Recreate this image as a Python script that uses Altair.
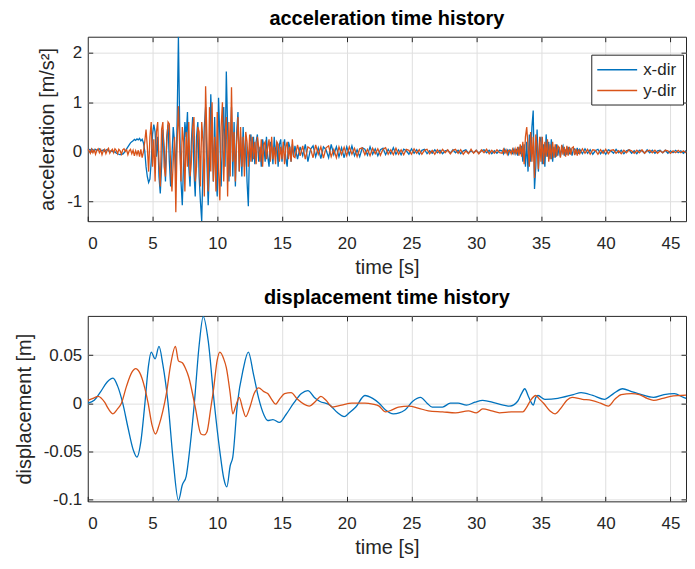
import altair as alt
import pandas as pd

# ---------------- data ----------------
SERIES = ["x-dir", "y-dir"]
COLORS = ["#0072BD", "#D95319"]
XTICKS = [0, 5, 10, 15, 20, 25, 30, 35, 40, 45]
ACC_TICKS = [-1, 0, 1, 2]
DISP_TICKS = [-0.1, -0.05, 0, 0.05]

# acceleration sampling segments: (start time, step)
ACC_SEGMENTS = [(0.0, 0.1), (16.0, 0.2), (32.0, 0.1), (38.0, 0.2)]

acc_x_1 = [
    0.02, 0.05, 0.03, 0.06, 0.04, 0.02, 0.05, 0.03, 0.04, 0.06,
    0.03, 0.02, 0.04, 0.01, 0.03, 0.05, 0.02, 0.00, 0.02, 0.01,
    -0.01, 0.00, -0.03, -0.04, -0.05, -0.06, -0.04, -0.05, -0.02, 0.02,
    0.06, 0.10, 0.14, 0.18, 0.20, 0.22, 0.25, 0.23, 0.26, 0.24,
    0.27, 0.22, 0.25, 0.18, 0.02, -0.30, -0.50, -0.62, -0.55, -0.20,
    0.35, 0.55, 0.40, -0.10, 0.30, -0.50, -0.84, -0.30, 0.45, 0.10,
    -0.60, 0.30, 0.55, -0.20, -0.70, -0.10, 0.50, 0.20, -0.50, 0.60,
    2.32, 0.50, -0.60, -1.08, -0.20, 0.60, 0.30, 0.80, -0.30, -0.70,
    0.20, 0.70, -0.40, -0.90, 0.30, 0.60, -0.50, -1.00, -1.40, -0.30,
    0.50, 0.90, -0.20, -1.08, -0.30, 1.16, 0.40, -0.60, 0.70, -0.50,
    -0.90, 1.09, 0.30, -0.70, 0.20, 0.90, -0.30, 1.62, 0.50, -0.60,
    0.20, 0.90, -0.50, 0.60, -0.70, 0.40, 0.80, -0.40, 0.30, -0.50,
    0.50, -0.30, 0.30, -0.60, -1.10, 0.20, 0.35, -0.20, 0.30, -0.25,
    0.20, 0.35, -0.20, 0.10, -0.30, 0.25, 0.10, -0.20, 0.30, -0.10,
    -0.30, 0.20, 0.10, -0.25, 0.30, -0.10, 0.20, -0.30, 0.15, 0.25,
    -0.20, 0.10, 0.25, -0.15, -0.30, 0.20, 0.10, -0.20, 0.15, -0.10,
]
acc_x_2 = [
    0.12, -0.15, 0.10, -0.08, 0.15, -0.20, 0.05, 0.12, -0.10, 0.08,
    -0.14, 0.10, 0.04, -0.12, 0.15, -0.06, 0.10, -0.10, 0.08, -0.12,
    0.10, -0.06, 0.12, -0.08, 0.04, -0.10, 0.08, 0.05, -0.07, 0.10,
    -0.05, 0.06, -0.08, 0.04, 0.07, -0.06, 0.05, -0.04, 0.08, -0.05,
    0.04, -0.06, 0.05, 0.02, -0.05, 0.06, -0.03, 0.04, -0.05, 0.03,
    0.05, -0.04, 0.02, -0.03, 0.04, -0.02, 0.03, -0.04, 0.02, 0.03,
    -0.03, 0.04, -0.02, 0.03, -0.04, 0.02, 0.04, -0.03, 0.02, -0.02,
    0.03, -0.03, 0.02, 0.04, -0.02, 0.03, -0.04, 0.02, -0.03, 0.03,
]
acc_x_3 = [
    0.02, -0.04, 0.05, -0.02, 0.03, -0.05, 0.04, 0.02, -0.03, 0.05,
    -0.04, 0.06, -0.08, 0.10, -0.05, 0.12, -0.20, 0.15, -0.30, 0.20,
    -0.40, 0.35, -0.20, 0.50, 0.83, -0.75, -0.30, 0.45, -0.40, 0.20,
    0.30, -0.25, 0.15, -0.30, 0.35, -0.10, 0.20, -0.15, 0.25, -0.20,
    0.10, -0.12, 0.15, -0.08, 0.10, -0.10, 0.06, 0.12, -0.08, 0.05,
    -0.06, 0.10, -0.05, 0.07, -0.08, 0.04, 0.06, -0.05, 0.08, -0.04,
]
acc_x_4 = [
    0.05, -0.04, 0.06, -0.03, 0.04, -0.05, 0.02, 0.05, -0.04, 0.03,
    -0.05, 0.04, 0.02, -0.03, 0.05, -0.02, 0.03, -0.04, 0.02, 0.04,
    -0.03, 0.02, -0.04, 0.03, 0.02, -0.03, 0.04, -0.02, 0.03, -0.03,
    0.02, 0.03, -0.02, 0.03, -0.03, 0.02, -0.02, 0.03, -0.02, 0.02,
    -0.03, 0.02, 0.01, -0.02, 0.02,
]

acc_y_1 = [
    0.06, 0.02, -0.03, 0.05, -0.02, 0.04, -0.05, 0.03, 0.06, -0.02,
    0.04, -0.06, 0.02, 0.05, -0.04, 0.03, 0.07, -0.03, 0.02, 0.05,
    -0.02, 0.06, 0.03, -0.04, 0.05, 0.02, -0.05, 0.04, 0.06, 0.01,
    0.04, -0.06, 0.02, 0.05, -0.04, 0.03, -0.08, 0.02, -0.06, 0.03,
    -0.10, 0.05, -0.12, 0.00, 0.20, 0.45, 0.10, -0.40, 0.30, 0.60,
    -0.30, 0.25, -0.60, 0.40, 0.60, -0.20, -0.70, 0.45, 0.60, -0.30,
    -0.50, 0.20, 0.60, 0.56, -0.30, -0.80, -0.20, 0.30, -1.22, 0.20,
    0.92, 0.10, -0.60, 0.50, 0.20, -0.80, 0.40, -0.30, 0.60, -0.50,
    -0.20, 0.50, 0.70, -0.60, -0.30, 0.50, 0.40, -0.70, 0.60, 0.20,
    -0.90, 1.32, 0.30, -0.80, 0.90, -0.40, 1.00, -0.60, 0.30, -0.80,
    0.80, -0.40, -0.98, 0.50, 1.00, -0.60, 0.30, 0.70, -0.90, 0.60,
    -0.50, 1.30, -0.20, 0.40, -0.60, 0.20, 0.70, -0.40, 0.50, -0.30,
    0.30, -0.50, 0.40, 0.20, -0.30, 0.35, -0.20, 0.30, -0.15, 0.20,
    -0.25, 0.30, 0.10, -0.20, 0.25, -0.30, 0.15, 0.20, -0.15, 0.10,
    0.25, -0.20, 0.30, -0.15, 0.10, -0.25, 0.20, 0.15, -0.20, 0.10,
    -0.15, 0.20, -0.25, 0.10, 0.20, -0.15, 0.10, -0.20, 0.25, -0.10,
]
acc_y_2 = [
    -0.12, 0.14, -0.08, 0.12, -0.15, 0.10, 0.06, -0.12, 0.14, -0.05,
    0.10, -0.13, 0.08, 0.12, -0.10, 0.05, -0.12, 0.10, -0.06, 0.09,
    -0.08, 0.10, -0.05, 0.07, -0.10, 0.06, 0.08, -0.06, 0.05, -0.08,
    0.07, -0.04, 0.06, -0.07, 0.05, 0.08, -0.05, 0.04, -0.06, 0.07,
    -0.05, 0.04, -0.06, 0.05, 0.03, -0.05, 0.06, -0.03, 0.04, -0.05,
    0.03, 0.05, -0.04, 0.03, -0.05, 0.04, -0.03, 0.05, -0.02, 0.04,
    -0.04, 0.03, 0.05, -0.03, 0.04, -0.05, 0.02, -0.04, 0.05, -0.03,
    0.03, -0.04, 0.04, -0.02, 0.05, -0.04, 0.03, -0.03, 0.04, -0.02,
]
acc_y_3 = [
    -0.03, 0.05, -0.02, 0.04, -0.05, 0.03, 0.02, -0.04, 0.05, -0.03,
    0.06, -0.05, 0.10, -0.08, 0.15, -0.10, 0.20, -0.25, 0.30, 0.50,
    0.10, -0.30, 0.40, -0.20, 0.30, -0.53, 0.35, 0.10, -0.35, 0.30,
    -0.20, 0.30, -0.25, 0.20, -0.10, 0.25, -0.20, 0.15, -0.15, 0.20,
    -0.12, 0.15, -0.10, 0.12, 0.08, -0.12, 0.14, -0.06, 0.10, -0.10,
    0.12, -0.08, 0.10, -0.06, 0.08, 0.10, -0.07, 0.06, -0.08, 0.05,
]
acc_y_4 = [
    -0.04, 0.06, -0.03, 0.05, -0.05, 0.04, 0.03, -0.05, 0.04, -0.03,
    0.05, -0.04, 0.03, 0.04, -0.03, 0.02, -0.04, 0.03, -0.02, 0.04,
    0.02, -0.03, 0.03, -0.02, 0.04, -0.03, 0.02, 0.03, -0.02, 0.03,
    -0.03, 0.02, -0.02, 0.03, 0.02, -0.03, 0.02, -0.02, 0.03, -0.02,
    0.02, -0.02, 0.03, -0.01, 0.02,
]

# displacement readings (time, value)
disp_x_t = [0, 0.5, 1.0, 1.5, 1.95, 2.3, 2.7, 3.1, 3.5, 3.8, 4.1, 4.4, 4.7, 4.9, 5.2,
            5.5, 5.8, 6.2, 6.6, 7.0, 7.3, 7.6, 7.9, 8.23, 8.6, 8.92, 9.3, 9.77, 10.2,
            10.5, 10.74, 11.0, 11.2, 11.56, 12.0, 12.4, 12.8, 13.2, 13.6, 13.9, 14.3,
            14.8, 15.3, 15.9, 16.5, 17.0, 17.5, 17.9, 18.7, 19.3, 19.8, 20.2, 20.7,
            21.4, 22.0, 22.5, 23.0, 23.6, 24.5, 25.1, 25.7, 26.2, 26.6, 27.4, 28.0,
            28.6, 29.25, 29.9, 30.5, 31.5, 32.6, 33.2, 33.5, 33.75, 34.0, 34.2, 34.4,
            34.6, 34.77, 35.3, 36.3, 37.5, 38.1, 39.0, 39.9, 40.6, 41.3, 42.0, 42.5,
            43.7, 44.5, 45.3, 46.0, 46.75]
disp_x_v = [0.000, 0.003, 0.012, 0.022, 0.026, 0.018, 0.000, -0.025, -0.048, -0.056,
            -0.040, -0.002, 0.040, 0.053, 0.046, 0.059, 0.040, 0.000, -0.060, -0.101,
            -0.085, -0.076, -0.045, 0.000, 0.060, 0.090, 0.065, 0.000, -0.050, -0.078,
            -0.087, -0.065, -0.056, 0.000, 0.035, 0.053, 0.030, 0.005, -0.012, -0.018,
            -0.017, -0.020, -0.012, 0.000, 0.010, 0.013, 0.006, 0.002, -0.002, -0.010,
            -0.014, -0.010, -0.004, 0.008, 0.005, 0.000, -0.007, -0.011, -0.007, 0.002,
            0.006, 0.000, -0.004, -0.004, 0.000, 0.000, -0.002, 0.001, 0.003, 0.000,
            -0.003, 0.002, 0.010, 0.015, 0.008, 0.002, -0.002, 0.006, 0.008, 0.004,
            0.005, 0.009, 0.011, 0.008, 0.004, 0.010, 0.015, 0.012, 0.010, 0.006,
            0.009, 0.010, 0.006, 0.003]

disp_y_t = [0, 0.4, 0.8, 1.3, 1.6, 1.95, 2.3, 2.6, 3.0, 3.4, 3.7, 4.0, 4.4, 4.66, 4.95,
            5.23, 5.5, 5.8, 6.07, 6.4, 6.77, 7.0, 7.3, 7.55, 7.8, 8.3, 8.74, 9.0, 9.2,
            9.5, 9.7, 10.0, 10.2, 10.5, 10.7, 11.0, 11.2, 11.45, 11.7, 11.95, 12.2, 12.5,
            12.85, 13.2, 13.6, 13.9, 14.2, 14.5, 14.85, 15.2, 15.7, 16.2, 16.7, 17.1,
            17.6, 18.0, 18.4, 18.9, 19.6, 20.4, 21.4, 22.0, 22.5, 23.0, 23.5, 24.0, 24.8,
            25.5, 26.3, 27.4, 28.4, 29.4, 30.0, 30.5, 31.2, 31.8, 32.7, 33.6, 33.9, 34.2,
            34.6, 34.9, 35.2, 35.7, 36.1, 36.6, 37.0, 37.4, 38.2, 38.9, 39.6, 40.2, 40.7,
            41.2, 42.0, 42.6, 43.2, 43.7, 44.4, 45.0, 45.8, 46.75]
disp_y_v = [0.003, 0.005, 0.007, 0.001, -0.006, -0.011, -0.006, 0.000, 0.018, 0.032,
            0.036, 0.032, 0.016, 0.000, -0.022, -0.032, -0.023, -0.008, 0.010, 0.040,
            0.059, 0.044, 0.042, 0.036, 0.027, -0.004, -0.032, -0.033, -0.030, -0.005,
            0.013, 0.045, 0.053, 0.046, 0.037, 0.010, -0.011, -0.002, 0.006, -0.005,
            -0.014, -0.005, 0.010, 0.016, 0.012, 0.010, 0.004, -0.001, 0.005, 0.010,
            0.011, 0.004, -0.001, -0.003, 0.002, 0.007, 0.003, -0.004, -0.002, 0.000,
            0.000, -0.001, -0.003, -0.009, -0.007, -0.004, -0.003, -0.005, -0.008, -0.009,
            -0.010, -0.008, -0.010, -0.006, -0.008, -0.010, -0.009, -0.009, -0.004, 0.003,
            0.008, 0.004, 0.000, -0.008, -0.011, -0.004, 0.003, 0.006, 0.004, 0.003,
            0.000, -0.003, 0.004, 0.009, 0.010, 0.009, 0.005, 0.003, 0.005, 0.007,
            0.008, 0.009]

# ---------------- tables ----------------
def segmented(series, chunks):
    rows = []
    for (start, step), vals in zip(ACC_SEGMENTS, chunks):
        for i, v in enumerate(vals):
            rows.append({"t": round(start + i * step, 3), "v": v, "series": series})
    return rows

acc_df = pd.DataFrame(
    segmented("x-dir", [acc_x_1, acc_x_2, acc_x_3, acc_x_4])
    + segmented("y-dir", [acc_y_1, acc_y_2, acc_y_3, acc_y_4])
)
disp_df = pd.DataFrame(
    [{"t": t, "v": v, "series": "x-dir"} for t, v in zip(disp_x_t, disp_x_v)]
    + [{"t": t, "v": v, "series": "y-dir"} for t, v in zip(disp_y_t, disp_y_v)]
)

# ---------------- styling ----------------
FONT = "Liberation Sans"
AXC = "#262626"
GRID = "#dfdfdf"
W = 600
XDOM = [0, 46.2]


def panel(df, ydom, yticks, ytitle, title, legend_y, interp, h):
    xs = alt.Scale(domain=XDOM, nice=False, zero=False)
    ys = alt.Scale(domain=ydom, nice=False, zero=False)
    common = dict(domain=False, offset=-5, tickSize=5, tickColor=AXC, tickWidth=1)
    lines = alt.Chart(df).mark_line(strokeWidth=1.3, clip=True, interpolate=interp).encode(
        x=alt.X("t:Q", scale=xs, axis=alt.Axis(
            orient="bottom", values=XTICKS, labelExpr="'' + datum.value", grid=False,
            title="time [s]", labelPadding=14, titlePadding=6, **common)),
        y=alt.Y("v:Q", scale=ys, axis=alt.Axis(
            orient="left", values=yticks, labelExpr="'' + datum.value", grid=False,
            title=ytitle, labelPadding=6, titlePadding=9, **common)),
        color=alt.Color("series:N", scale=alt.Scale(domain=SERIES, range=COLORS),
                        legend=alt.Legend(
                            title=None, orient="none", legendX=505, legendY=legend_y,
                            direction="vertical", strokeColor=AXC, fillColor="white",
                            padding=6, rowPadding=4, labelFont=FONT, labelFontSize=17,
                            labelColor=AXC, symbolType="M-2.5,0H2.5", symbolSize=256,
                            symbolStrokeWidth=1.5, symbolOffset=11, labelOffset=17,
                            cornerRadius=0)),
    )
    frame_df = pd.DataFrame({"t": [XDOM[0]], "v": [ydom[0]]})
    frame = alt.Chart(frame_df).mark_point(opacity=0).encode(
        x=alt.X("t:Q", scale=xs, axis=alt.Axis(
            orient="top", values=XTICKS[1:], labels=False, title=None, grid=True,
            gridColor=GRID, gridWidth=1, **common)),
        y=alt.Y("v:Q", scale=ys, axis=alt.Axis(
            orient="right", values=yticks, labels=False, title=None, grid=True,
            gridColor=GRID, gridWidth=1, **common)),
    )
    return alt.layer(lines, frame).resolve_axis(x="independent", y="independent").properties(
        width=W, height=h,
        title=alt.Title(title, font=FONT, fontSize=20, fontWeight="bold", color="black",
                        offset=7, anchor="middle"),
    )


top = panel(acc_df, [-1.4, 2.32], ACC_TICKS, "acceleration [m/s²]",
            "acceleration time history", 18, "linear", 185)
bottom = panel(disp_df, [-0.102, 0.0907], DISP_TICKS, "displacement [m]",
               "displacement time history", 20, "monotone", 186)

chart = alt.vconcat(top, bottom, spacing=10).properties(
    padding={"left": 5, "top": 0, "right": 0, "bottom": 0},
    background="white",
).configure_view(stroke=AXC, strokeWidth=1).configure_axis(
    labelFont=FONT, labelFontSize=17, labelColor=AXC,
    titleFont=FONT, titleFontSize=20, titleColor=AXC, titleFontWeight="normal",
)

chart.save("out.html", embed_options={"renderer": "svg", "actions": False})
